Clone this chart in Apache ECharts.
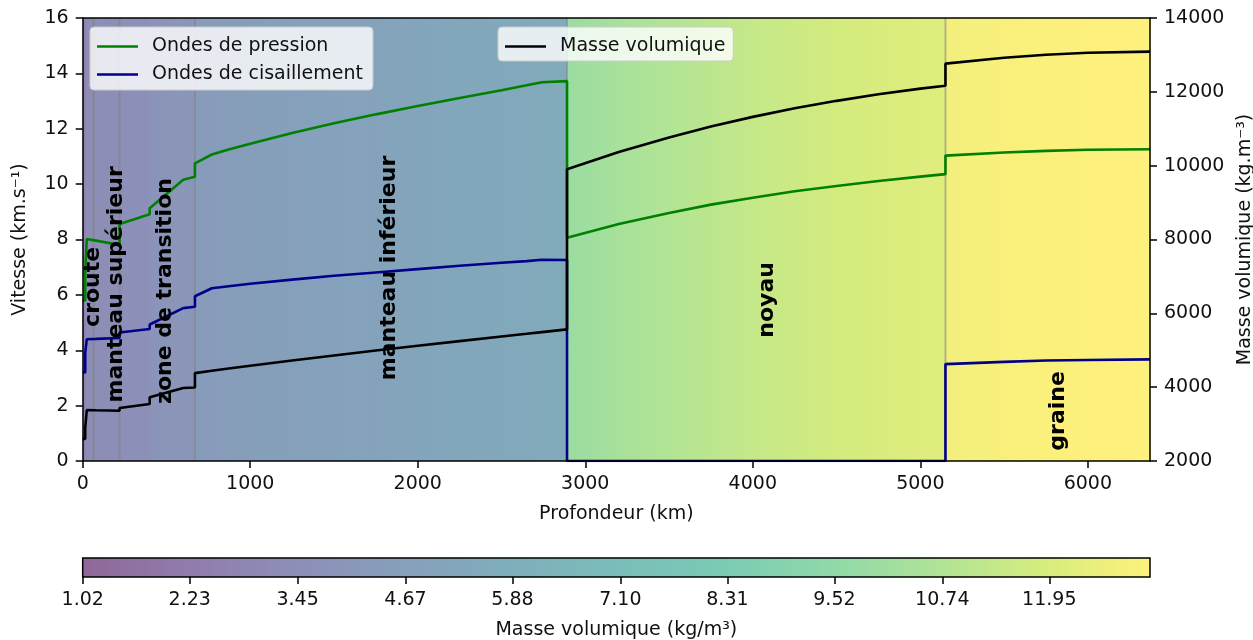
<!DOCTYPE html>
<html>
<head>
<meta charset="utf-8">
<script src="https://cdn.jsdelivr.net/npm/echarts@6/dist/echarts.min.js"></script>
<style>
html,body{margin:0;padding:0;background:#fff;}
#c{width:1253px;height:640px;}
</style>
</head>
<body>
<div id="c"></div>
<script>
// ---- data (PREM-like profile) ----
const depth = [0,15,15,24.4,24.4,80,220,220,400,400,600,670,670,771,871,1000,1250,1500,1750,2000,2250,2500,2650,2741,2891,2891,3200,3500,3750,4000,4250,4500,4750,5000,5150,5150,5500,5750,6000,6371];
const vp = [5.8,5.8,6.8,6.8,8.02,7.96,7.80,8.56,8.91,9.13,10.16,10.27,10.75,11.07,11.25,11.46,11.85,12.20,12.52,12.82,13.11,13.39,13.57,13.68,13.72,8.06,8.56,8.96,9.26,9.51,9.74,9.93,10.11,10.27,10.36,11.03,11.14,11.20,11.24,11.26];
const vs = [3.2,3.2,3.9,3.9,4.40,4.41,4.44,4.64,4.77,4.93,5.52,5.57,5.95,6.24,6.31,6.40,6.55,6.69,6.81,6.93,7.05,7.16,7.22,7.27,7.26,0,0,0,0,0,0,0,0,0,0,3.50,3.58,3.63,3.65,3.67];
const rho = [2600,2600,2900,2900,3381,3375,3360,3436,3543,3724,3976,3992,4381,4443,4504,4580,4723,4860,4992,5121,5247,5372,5446,5491,5566,9903,10369,10766,11060,11322,11553,11756,11933,12086,12166,12764,12923,13005,13059,13088];

const boundaries = [65, 220, 670, 2891, 5150];
const layerNames = ['croute','manteau supérieur','zone de transition','manteau inférieur','noyau','graine'];
const layerDepth = [63, 203, 492, 1830, 4084, 5825];
const layerVel   = [6.29, 6.38, 6.14, 6.97, 5.82, 1.81];

const xTicks = [0,1000,2000,3000,4000,5000,6000];
const cbarMin = 1.02, cbarMax = 13.0885;
const cbarTicks = [1.02,2.23,3.45,4.67,5.88,7.10,8.31,9.52,10.74,11.95];

// ---- style helpers ----
const FONT = 'DejaVu Sans';
const viridis = ['#440154','#482475','#414487','#355f8d','#2a788e','#21918c','#22a884','#44bf70','#7ad151','#bddf26','#fde725'];
const ALPHA = 0.6;
function hex2rgb(h){return [parseInt(h.substr(1,2),16),parseInt(h.substr(3,2),16),parseInt(h.substr(5,2),16)];}
function blend(c){return c.map(v=>Math.round(v*ALPHA+255*(1-ALPHA)));}
function cmap(t){
  t=Math.max(0,Math.min(1,t));
  const f=t*(viridis.length-1); const i=Math.min(Math.floor(f),viridis.length-2); const u=f-i;
  const a=hex2rgb(viridis[i]), b=hex2rgb(viridis[i+1]);
  const c=blend(a.map((v,k)=>v+(b[k]-v)*u));
  return 'rgb('+c.join(',')+')';
}
function rhoColor(r){return cmap((r/1000-cbarMin)/(cbarMax-cbarMin));}

const bgData=[];
for(let i=0;i<depth.length-1;i++){ if(depth[i+1]>depth[i]) bgData.push([depth[i],depth[i+1],rho[i],rho[i+1]]); }

const vMin=0, vMax=16;
const axisLineStyle={show:true,onZero:false,lineStyle:{color:'#000',width:1.5}};
const labelStyle={fontFamily:FONT,fontSize:19,color:'#111',margin:14,formatter:v=>String(v)};
const tickStyle={show:true,length:7,lineStyle:{color:'#000',width:1.5}};
const nameStyle={fontFamily:FONT,fontSize:19,color:'#111'};
const legendBase={orient:'vertical',icon:'rect',itemWidth:41,itemHeight:2.6,itemGap:9,
  backgroundColor:'rgba(255,255,255,0.8)',borderColor:'#cccccc',borderWidth:1,borderRadius:4,
  textStyle:{fontFamily:FONT,fontSize:19,color:'#111',padding:[0,0,0,9]},z:20};

const chart=echarts.init(document.getElementById('c'),null,{renderer:'canvas'});
chart.setOption({
  animation:false,
  textStyle:{fontFamily:FONT},
  grid:[
    {left:82.7,top:18,width:1067.3,height:443,containLabel:false,outerBoundsMode:'none'},
    {left:82.7,top:558,width:1067.3,height:19,containLabel:false,outerBoundsMode:'none'}
  ],
  legend:[
    Object.assign({},legendBase,{data:['Ondes de pression','Ondes de cisaillement'],left:90,top:27,padding:[10,10,6,7]}),
    Object.assign({},legendBase,{data:['Masse volumique'],left:498,top:27,padding:[10,8,5,7]})
  ],
  xAxis:[
    {type:'value',gridIndex:0,min:0,max:6371,position:'bottom',z:8,
     axisLine:axisLineStyle,
     axisTick:Object.assign({},tickStyle,{customValues:xTicks}),
     axisLabel:Object.assign({},labelStyle,{customValues:xTicks}),
     splitLine:{show:false},
     name:'Profondeur (km)',nameLocation:'middle',nameGap:44,nameTextStyle:nameStyle},
    {type:'value',gridIndex:1,min:cbarMin,max:cbarMax,position:'bottom',z:8,
     axisLine:{show:false,onZero:false},
     axisTick:Object.assign({},tickStyle,{customValues:cbarTicks}),
     axisLabel:Object.assign({},labelStyle,{customValues:cbarTicks,formatter:v=>v.toFixed(2)}),
     splitLine:{show:false},
     name:'Masse volumique (kg/m³)',nameLocation:'middle',nameGap:44,nameTextStyle:nameStyle},
    {type:'value',gridIndex:0,min:0,max:6371,position:'top',z:8,
     axisLine:axisLineStyle,axisTick:{show:false},axisLabel:{show:false},splitLine:{show:false}}
  ],
  yAxis:[
    {type:'value',gridIndex:0,min:vMin,max:vMax,interval:2,position:'left',z:8,
     axisLine:axisLineStyle,axisTick:tickStyle,axisLabel:labelStyle,splitLine:{show:false},
     name:'Vitesse (km.s⁻¹)',nameLocation:'middle',nameGap:53,nameTextStyle:nameStyle},
    {type:'value',gridIndex:0,min:2000,max:14000,interval:2000,position:'right',z:8,
     axisLine:axisLineStyle,axisTick:tickStyle,axisLabel:labelStyle,splitLine:{show:false},
     name:'Masse volumique (kg.m⁻³)',nameLocation:'middle',nameGap:81,nameTextStyle:nameStyle},
    {type:'value',gridIndex:1,min:0,max:1,show:false}
  ],
  series:[
    {type:'custom',name:'bg',xAxisIndex:0,yAxisIndex:0,z:1,silent:true,encode:{x:[0,1]},data:bgData,
     renderItem:function(params,api){
       const a=api.coord([api.value(0),vMax]), b=api.coord([api.value(1),vMin]);
       return {type:'rect',shape:{x:a[0],y:a[1],width:b[0]-a[0]+0.7,height:b[1]-a[1]},
         style:{fill:new echarts.graphic.LinearGradient(0,0,1,0,[{offset:0,color:rhoColor(api.value(2))},{offset:1,color:rhoColor(api.value(3))}])}};
     }},
    {type:'custom',name:'limites',xAxisIndex:0,yAxisIndex:0,z:2,silent:true,encode:{x:0},data:boundaries.map(d=>[d]),
     renderItem:function(params,api){
       const a=api.coord([api.value(0),vMax]), b=api.coord([api.value(0),vMin]);
       return {type:'line',shape:{x1:a[0],y1:a[1],x2:b[0],y2:b[1]},style:{stroke:'rgba(128,128,128,0.5)',lineWidth:2}};
     }},
    {type:'line',name:'Ondes de pression',xAxisIndex:0,yAxisIndex:0,z:5,symbol:'none',
     data:depth.map((d,i)=>[d,vp[i]]),itemStyle:{color:'#008000'},lineStyle:{color:'#008000',width:2.6}},
    {type:'line',name:'Ondes de cisaillement',xAxisIndex:0,yAxisIndex:0,z:5,symbol:'none',
     data:depth.map((d,i)=>[d,vs[i]]),itemStyle:{color:'#00008b'},lineStyle:{color:'#00008b',width:2.6}},
    {type:'line',name:'Masse volumique',xAxisIndex:0,yAxisIndex:1,z:5,symbol:'none',
     data:depth.map((d,i)=>[d,rho[i]]),itemStyle:{color:'#000'},lineStyle:{color:'#000',width:2.6}},
    {type:'custom',name:'couches',xAxisIndex:0,yAxisIndex:0,z:6,silent:true,
     data:layerDepth.map((d,i)=>[d,layerVel[i]]),
     renderItem:function(params,api){
       const p=api.coord([api.value(0),api.value(1)]);
       return {type:'text',x:p[0],y:p[1],rotation:Math.PI/2,
         style:{text:layerNames[params.dataIndex],fontFamily:FONT,fontSize:22,fontWeight:'bold',fill:'#000',align:'center',verticalAlign:'middle'}};
     }},
    {type:'custom',name:'cbar',xAxisIndex:1,yAxisIndex:2,z:3,silent:true,encode:{x:[0,1]},data:[[cbarMin,cbarMax]],
     renderItem:function(params,api){
       const a=api.coord([api.value(0),1]), b=api.coord([api.value(1),0]);
       const stops=viridis.map((c,i)=>({offset:i/(viridis.length-1),color:'rgb('+blend(hex2rgb(c)).join(',')+')'}));
       return {type:'group',children:[
         {type:'rect',shape:{x:a[0],y:a[1],width:b[0]-a[0],height:b[1]-a[1]},style:{fill:new echarts.graphic.LinearGradient(0,0,1,0,stops)}},
         {type:'rect',shape:{x:a[0],y:a[1],width:b[0]-a[0],height:b[1]-a[1]},style:{fill:'none',stroke:'#000',lineWidth:1.5}}
       ]};
     }}
  ]
});
</script>
</body>
</html>
